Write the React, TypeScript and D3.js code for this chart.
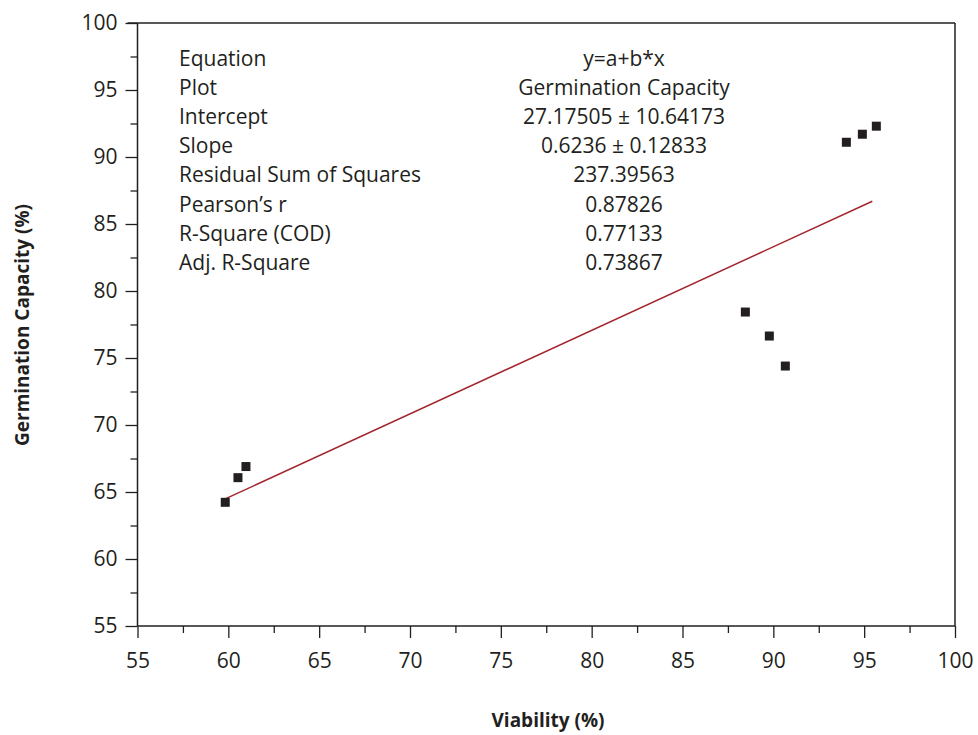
import React, { useEffect, useRef } from 'react';
import * as d3 from 'd3';

// measured points
const viability = [59.83, 60.53, 60.97, 88.46, 89.78, 90.66, 94.02, 94.9, 95.67];
const germination = [64.23, 66.07, 66.9, 78.43, 76.64, 74.4, 91.1, 91.7, 92.3];

const intercept = 27.17505;
const slope = 0.6236;

const statLabels = [
    'Equation', 'Plot', 'Intercept', 'Slope', 'Residual Sum of Squares',
    "Pearson\u2019s r", 'R-Square (COD)', 'Adj. R-Square'
];
const statValues = [
    'y=a+b*x', 'Germination Capacity', '27.17505 \u00b1 10.64173', '0.6236 \u00b1 0.12833',
    '237.39563', '0.87826', '0.77133', '0.73867'
];

const xTicks = [55, 60, 65, 70, 75, 80, 85, 90, 95, 100];
const yTicks = [55, 60, 65, 70, 75, 80, 85, 90, 95, 100];

const W = 978, H = 735;
const left = 137.5, right = 955, top = 23, bottom = 626;
const ink = '#231f20';
const font = '"Open Sans", sans-serif';

const App = () => {
    const ref = useRef<SVGSVGElement>(null);

    const x = d3.scaleLinear().domain([55, 100]).range([left, right]);
    const y = d3.scaleLinear().domain([55, 100]).range([bottom, top]);

    useEffect(() => {
        const svg = d3.select(ref.current);
        svg.selectAll('g.axis').remove();

        const minorX = d3.range(57.5, 100, 5);
        const minorY = d3.range(57.5, 100, 5);

        const gx = svg.append('g').attr('class', 'axis')
            .attr('transform', `translate(0,${bottom})`);
        gx.call(d3.axisBottom(x).tickValues(xTicks).tickSize(12).tickPadding(15).tickFormat(d3.format('d')) as any);
        gx.append('g').call(d3.axisBottom(x).tickValues(minorX).tickSize(7).tickFormat(() => '') as any)
            .select('.domain').remove();

        const gy = svg.append('g').attr('class', 'axis')
            .attr('transform', `translate(${left},0)`);
        gy.call(d3.axisLeft(y).tickValues(yTicks).tickSize(12).tickPadding(8).tickFormat(d3.format('d')) as any);
        gy.append('g').call(d3.axisLeft(y).tickValues(minorY).tickSize(7).tickFormat(() => '') as any)
            .select('.domain').remove();

        // straight domain lines, no end caps
        gx.select('.domain').attr('d', `M${left},0H${right}`);
        gy.select('.domain').attr('d', `M0,${top}V${bottom}`);
        svg.selectAll('g.axis path.domain').attr('stroke', ink).attr('stroke-width', 1.5);

        svg.selectAll('g.axis .tick line').attr('stroke', ink).attr('stroke-width', 1.3);
        svg.selectAll('g.axis .tick text')
            .attr('fill', ink)
            .style('font-family', font)
            .style('font-size', '21px');
    }, []);

    const [x0] = d3.extent(viability) as [number, number];
    const fit = d3.line<number>()
        .x(d => x(d))
        .y(d => y(intercept + slope * d));

    const rowH = 29.2;

    return (
        <svg ref={ref} width={W} height={H}
            style={{ position: 'absolute', left: 0, top: 0, background: '#fff' }}>
            <line x1={left - 10} x2={right} y1={top} y2={top} stroke={ink} strokeWidth={1.5} />
            <line x1={right} x2={right} y1={top} y2={bottom} stroke={ink} strokeWidth={1.5} />

            <path d={fit([x0, 95.45]) || ''} fill="none" stroke="#a3262e" strokeWidth={1.5} />

            {viability.map((v, i) => (
                <rect key={i} x={x(v) - 4.5} y={y(germination[i]) - 4.5} width={9} height={9} fill={ink} />
            ))}

            <g fontFamily={font} fontSize={21} fill={ink}>
                {statLabels.map((s, i) => (
                    <text key={i} x={179} y={65.5 + i * rowH}>{s}</text>
                ))}
                {statValues.map((s, i) => (
                    <text key={i} x={624} y={65.5 + i * rowH} textAnchor="middle">{s}</text>
                ))}
            </g>

            <text x={548} y={727} textAnchor="middle" fontFamily={font} fontSize={19}
                fontWeight="bold" fill={ink}>Viability (%)</text>
            <text transform={`translate(29,325) rotate(-90)`} textAnchor="middle" fontFamily={font}
                fontSize={19} fontWeight="bold" fill={ink}>Germination Capacity (%)</text>
        </svg>
    );
};

export default App;
